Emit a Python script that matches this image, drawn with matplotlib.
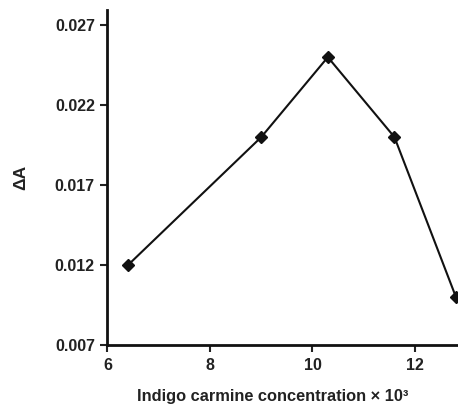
import matplotlib
matplotlib.use('Agg')
import matplotlib.pyplot as plt

conc = [6.4, 9.0, 10.3, 11.6, 12.8]
dA = [0.012, 0.020, 0.025, 0.020, 0.010]
xticks = [6, 8, 10, 12]
yticks = [0.007, 0.012, 0.017, 0.022, 0.027]

plt.rcParams['font.family'] = ['Liberation Sans', 'DejaVu Sans']
plt.rcParams['font.weight'] = 'bold'

fig = plt.figure(figsize=(4.58, 4.05), dpi=100)
ax = fig.add_axes([0.2347, 0.148, 0.7653, 0.827])
ax.plot(conc, dA, color='#111111', lw=1.5, marker='D', ms=6, mfc='#111111', mec='#111111')

ax.set_xlim(6, 12.84)
ax.set_ylim(0.007, 0.02794)
ax.set_xticks(xticks)
ax.set_yticks(yticks)
ax.set_yticklabels(['%.3f' % v for v in yticks])
for s in ['top', 'right']:
    ax.spines[s].set_visible(False)
for s in ['left', 'bottom']:
    ax.spines[s].set_linewidth(2)
    ax.spines[s].set_color('#111111')
ax.tick_params(direction='out', length=5, width=1.5, labelsize=11.5, colors='#222222', pad=4)
ax.set_xlabel('Indigo carmine concentration × 10³', fontsize=11.8, fontweight='bold', color='#222222')
ax.xaxis.set_label_coords(0.472, -0.132)
ax.set_ylabel('ΔA', fontsize=12.5, fontweight='bold', color='#222222')
ax.yaxis.set_label_coords(-0.225, 0.5)

fig.savefig('out.png', dpi=100)
